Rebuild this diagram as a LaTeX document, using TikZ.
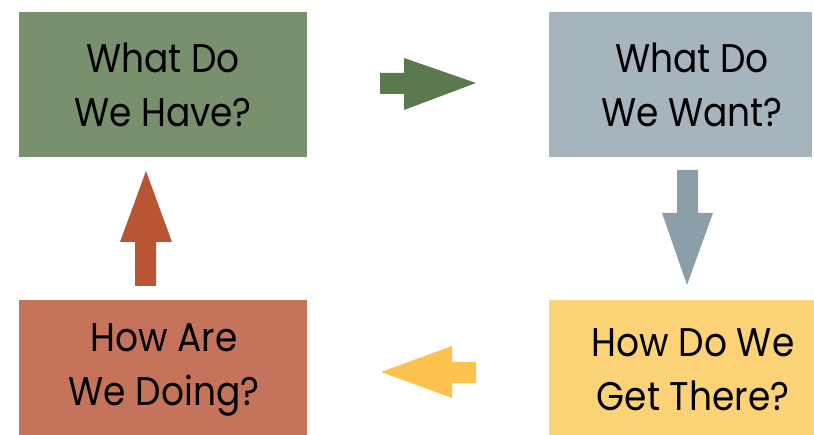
\documentclass[tikz,border=0pt]{standalone}
\usepackage{fontspec}
\setmainfont[FakeStretch=0.9]{Poppins}
\definecolor{gbox}{HTML}{78916C}
\definecolor{garr}{HTML}{5A7A4D}
\definecolor{bbox}{HTML}{A5B4BD}
\definecolor{barr}{HTML}{8C9FA9}
\definecolor{ybox}{HTML}{FCD277}
\definecolor{yarr}{HTML}{FEC34F}
\definecolor{rbox}{HTML}{C5735B}
\definecolor{rarr}{HTML}{B95535}
\begin{document}
\begin{tikzpicture}[x=1pt,y=-1pt,
  lbl/.style={align=center, font=\fontsize{40}{54}\selectfont, text=black, inner sep=0pt}]
\useasboundingbox (0,0) rectangle (814,435);
% boxes
\fill[gbox] (19,12) rectangle (307,157);
\fill[bbox] (549,12) rectangle (812,157);
\fill[ybox] (549,300) rectangle (814,435);
\fill[rbox] (19,300) rectangle (307,435);
\node[lbl] (have) at (163,85) {What Do\\We Have?};
\node[lbl] (want) at (692,85) {What Do\\We Want?};
\node[lbl] (there) at (693,370) {How Do We\\Get There?};
\node[lbl] (doing) at (164,370) {How Are\\We Doing?};
% arrows
\fill[garr] (380,73) -- (404,73) -- (404,58) -- (476,83) -- (404,110) -- (404,94) -- (380,94) -- cycle;
\fill[barr] (677,170) -- (698,170) -- (698,213) -- (713,213) -- (687,285) -- (662,213) -- (677,213) -- cycle;
\fill[yarr] (476,362) -- (452,362) -- (452,346) -- (381,372) -- (452,398) -- (452,383) -- (476,383) -- cycle;
\fill[rarr] (135,286) -- (135,242) -- (120,242) -- (146,171) -- (172,242) -- (156,242) -- (156,286) -- cycle;
\end{tikzpicture}
\end{document}
